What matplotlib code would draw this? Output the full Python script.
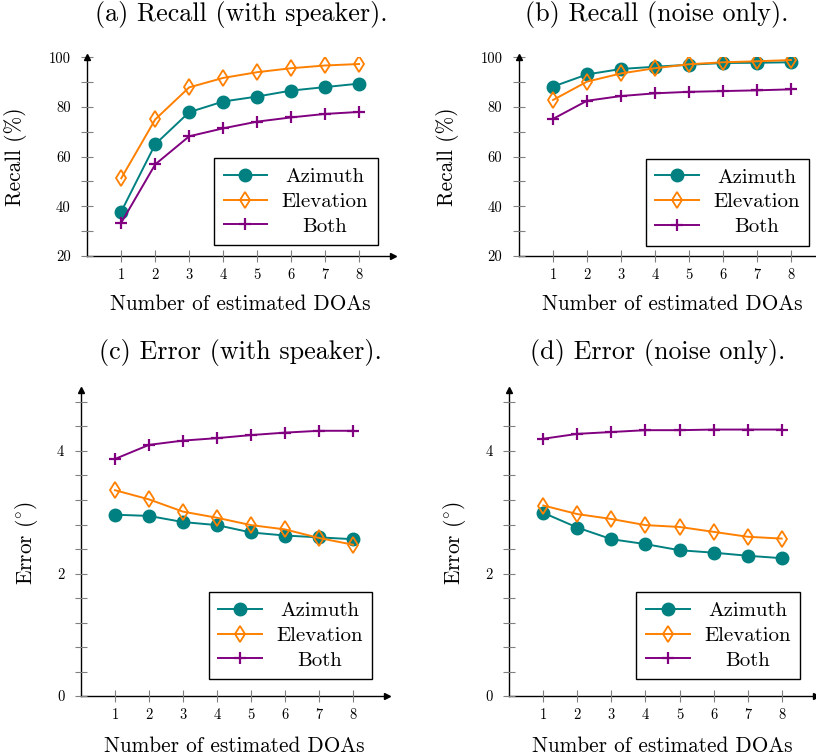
import matplotlib
matplotlib.use("Agg")
import matplotlib.pyplot as plt
import numpy as np

plt.rcParams["font.family"] = ["cmr10", "DejaVu Serif"]
plt.rcParams["mathtext.fontset"] = "cm"
plt.rcParams["axes.formatter.use_mathtext"] = True

n_doas = [1, 2, 3, 4, 5, 6, 7, 8]

# recall (%), with speaker
rec_spk_azi = [37.9, 65.0, 77.9, 82.2, 84.2, 86.6, 88.0, 89.4]
rec_spk_ele = [51.3, 75.0, 87.9, 91.7, 94.0, 95.6, 96.7, 97.3]
rec_spk_both = [33.4, 56.9, 68.2, 71.4, 74.1, 75.8, 77.2, 78.0]

# recall (%), noise only
rec_noise_azi = [88.2, 93.1, 95.3, 96.2, 97.0, 97.7, 97.8, 98.0]
rec_noise_ele = [82.8, 90.2, 93.5, 95.6, 97.2, 98.0, 98.4, 98.9]
rec_noise_both = [75.2, 82.5, 84.4, 85.5, 86.1, 86.4, 86.7, 87.1]

# error (deg), with speaker
err_spk_azi = [2.96, 2.94, 2.84, 2.79, 2.67, 2.62, 2.59, 2.56]
err_spk_ele = [3.36, 3.21, 3.01, 2.91, 2.79, 2.72, 2.58, 2.47]
err_spk_both = [3.87, 4.10, 4.17, 4.21, 4.26, 4.30, 4.33, 4.33]

# error (deg), noise only
err_noise_azi = [2.99, 2.75, 2.56, 2.48, 2.38, 2.34, 2.29, 2.25]
err_noise_ele = [3.11, 2.97, 2.89, 2.79, 2.76, 2.68, 2.60, 2.57]
err_noise_both = [4.20, 4.28, 4.31, 4.34, 4.34, 4.35, 4.35, 4.35]

series_names = ["Azimuth", "Elevation", "Both"]
titles = ["(a) Recall (with speaker).", "(b) Recall (noise only).",
          "(c) Error (with speaker).", "(d) Error (noise only)."]

TEAL = "#008080"
ORANGE = "#ff8000"
PURPLE = "#800080"

W, H = 816, 755
fig = plt.figure(figsize=(W / 100, H / 100), dpi=100)


def px_axes(left, right, top, bottom):
    return fig.add_axes([left / W, (H - bottom) / H, (right - left) / W, (bottom - top) / H])


def style_axis(ax, ylim, yticks, ylabels, yminor, ylabel, ylab_x, xlab_y):
    ax.set_xlim(0, 9)
    ax.set_ylim(*ylim)
    for s in ["top", "right"]:
        ax.spines[s].set_visible(False)
    for s in ["left", "bottom"]:
        ax.spines[s].set_linewidth(1.0)
        ax.spines[s].set_zorder(1)
    # arrow heads at the end of the axis lines
    ax.plot(1, 0, ">k", ms=5, transform=ax.transAxes, clip_on=False)
    ax.plot(0, 1, "^k", ms=5, transform=ax.transAxes, clip_on=False)
    ax.set_xticks(n_doas)
    ax.set_xticklabels([str(v) for v in n_doas])
    ax.set_yticks(yticks)
    ax.set_yticklabels(ylabels)
    ax.set_yticks(yminor, minor=True)
    ax.tick_params(which="both", direction="inout", length=8, width=0.8,
                   color="#808080", labelsize=10.5)
    ax.tick_params(axis="y", pad=8)
    ax.tick_params(axis="x", pad=5)
    ax.set_xlabel("Number of estimated DOAs", fontsize=15.3)
    ax.set_ylabel(ylabel, fontsize=15.3)
    ax.yaxis.set_label_coords(ylab_x, 0.5)
    ax.xaxis.set_label_coords(0.5, xlab_y)


def draw(ax, azi, ele, both, anchor):
    ax.plot(n_doas, azi, "-o", color=TEAL, lw=1.4, ms=9, label=series_names[0])
    ax.plot(n_doas, ele, "-d", color=ORANGE, lw=1.4, ms=8, mfc="none", mew=1.3,
            label=series_names[1])
    ax.plot(n_doas, both, "-+", color=PURPLE, lw=1.4, ms=8, mew=1.6, label=series_names[2])
    leg = ax.legend(loc="lower right", bbox_to_anchor=anchor, borderaxespad=0,
                    fancybox=False, framealpha=1, edgecolor="black", fontsize=15,
                    handlelength=2.1, handletextpad=0.7, labelspacing=0.3,
                    borderpad=0.45)
    leg.get_frame().set_linewidth(1.0)
    return leg


ax_a = px_axes(87.3, 393, 57.3, 256)
ax_b = px_axes(519, 825, 57.3, 256)
ax_c = px_axes(81, 387, 389.75, 696)
ax_d = px_axes(509.3, 815.7, 389.75, 696)

rec_ticks = [20, 40, 60, 80, 100]
rec_minor = [30, 50, 70, 90]
err_ticks = [0, 2, 4]
err_minor = [0.4, 0.8, 1.2, 1.6, 2.4, 2.8, 3.2, 3.6, 4.4, 4.8]

style_axis(ax_a, (20, 100), rec_ticks, [str(v) for v in rec_ticks], rec_minor,
           "Recall (%)", -0.196, -0.196)
style_axis(ax_b, (20, 100), rec_ticks, [str(v) for v in rec_ticks], rec_minor,
           "Recall (%)", -0.196, -0.196)
style_axis(ax_c, (0, 5), err_ticks, [str(v) for v in err_ticks], err_minor,
           r"Error $(^{\circ})$", -0.134, -0.131)
style_axis(ax_d, (0, 5), err_ticks, [str(v) for v in err_ticks], err_minor,
           r"Error $(^{\circ})$", -0.134, -0.131)

legends = [
    draw(ax_a, rec_spk_azi, rec_spk_ele, rec_spk_both, (0.95, 0.055)),
    draw(ax_b, rec_noise_azi, rec_noise_ele, rec_noise_both, (0.948, 0.052)),
    draw(ax_c, err_spk_azi, err_spk_ele, err_spk_both, (0.952, 0.0555)),
    draw(ax_d, err_noise_azi, err_noise_ele, err_noise_both, (0.949, 0.0555)),
]

fig.text(241 / W, 1 - 14 / H, titles[0], fontsize=18.8, ha="center", va="center")
fig.text(657 / W, 1 - 14 / H, titles[1], fontsize=18.8, ha="center", va="center")
fig.text(240 / W, 1 - 352 / H, titles[2], fontsize=18.8, ha="center", va="center")
fig.text(658 / W, 1 - 352 / H, titles[3], fontsize=18.8, ha="center", va="center")

# center the legend labels like pgfplots does
fig.canvas.draw()
renderer = fig.canvas.get_renderer()
for leg in legends:
    texts = leg.get_texts()
    widths = [t.get_window_extent(renderer).width for t in texts]
    wmax = max(widths)
    for t, w in zip(texts, widths):
        t.set_position(((wmax - w) / 2, 0))

fig.savefig("out.png", dpi=100)
